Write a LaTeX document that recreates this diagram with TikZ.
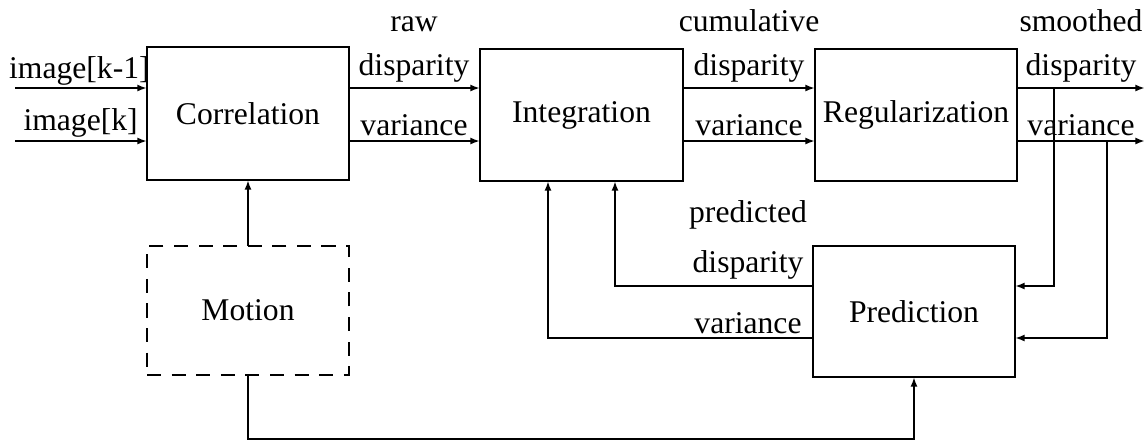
\documentclass[tikz,border=0pt]{standalone}
\usepackage{fontspec}
\setmainfont{Liberation Serif}
\usetikzlibrary{arrows.meta}

\begin{document}
\begin{tikzpicture}
        [x=0.02cm, y=-0.02cm,
        block/.style={draw, line width=1.2pt, inner sep=0pt, outer sep=0pt, font=\fontsize{18}{21}\selectfont},
        dashblock/.style={block, dash pattern=on 8pt off 6pt},
        lbl/.style={anchor=base, inner sep=0pt, font=\fontsize{18}{21}\selectfont},
        flow/.style={line width=1.2pt, -{Latex[length=5.5pt,width=4pt]}}]

        \useasboundingbox (0,0) rectangle (1147,441);

        \node[block, minimum width=4.04cm, minimum height=2.66cm] (corr) at (248,113.5) {Correlation};
        \node[block, minimum width=4.06cm, minimum height=2.64cm] (integ) at (581.5,115) {Integration};
        \node[block, minimum width=4.04cm, minimum height=2.64cm] (reg) at (916,115) {Regularization};
        \node[block, minimum width=4.04cm, minimum height=2.62cm] (pred) at (914,311.5) {Prediction};
        \node[dashblock, minimum width=4.04cm, minimum height=2.58cm] (mot) at (248,310.5) {Motion};

        % signal levels
        \coordinate (k1) at (15,88);
        \coordinate (k0) at (15,141);
        \coordinate (o1) at (1145,88);
        \coordinate (o0) at (1145,141);
        \coordinate (b1) at (1054,88);
        \coordinate (b0) at (1107,141);
        \coordinate (p1) at (0,286);
        \coordinate (p0) at (0,338);
        \coordinate (f1) at (615,0);
        \coordinate (f0) at (548,0);
        \coordinate (bot) at (0,439);

        % labels on the wires
        \node[lbl, anchor=base east] (imgk1) at (150,78) {image[k-1]};
        \node[lbl, anchor=base east] (imgk) at (138,130) {image[k]};
        \node[lbl] (rawtxt) at (414,31) {raw};
        \node[lbl] (rawdisp) at (414,75) {disparity};
        \node[lbl] (rawvar) at (414,135) {variance};
        \node[lbl] (cumtxt) at (749,31) {cumulative};
        \node[lbl] (cumdisp) at (749,75) {disparity};
        \node[lbl] (cumvar) at (749,135) {variance};
        \node[lbl] (smtxt) at (1081,31) {smoothed};
        \node[lbl] (smdisp) at (1081,75) {disparity};
        \node[lbl] (smvar) at (1081,135) {variance};
        \node[lbl] (prtxt) at (748,222) {predicted};
        \node[lbl] (prdisp) at (748,272) {disparity};
        \node[lbl] (prvar) at (748,333) {variance};

        % forward chain
        \draw[flow] (k1) -- (k1 -| corr.west);
        \draw[flow] (k0) -- (k0 -| corr.west);
        \draw[flow] (corr.east |- k1) -- (integ.west |- k1);
        \draw[flow] (corr.east |- k0) -- (integ.west |- k0);
        \draw[flow] (integ.east |- k1) -- (reg.west |- k1);
        \draw[flow] (integ.east |- k0) -- (reg.west |- k0);
        \draw[flow] (reg.east |- o1) -- (o1);
        \draw[flow] (reg.east |- o0) -- (o0);

        % feedback through prediction
        \draw[flow] (b1) |- (pred.east |- p1);
        \draw[flow] (b0) |- (pred.east |- p0);
        \draw[flow] (pred.west |- p1) -| (f1 |- integ.south);
        \draw[flow] (pred.west |- p0) -| (f0 |- integ.south);

        % motion
        \draw[flow] (mot.north) -- (corr.south);
        \draw[flow] (mot.south) |- (bot -| pred.south) -- (pred.south);

        \end{tikzpicture}
\end{document}
